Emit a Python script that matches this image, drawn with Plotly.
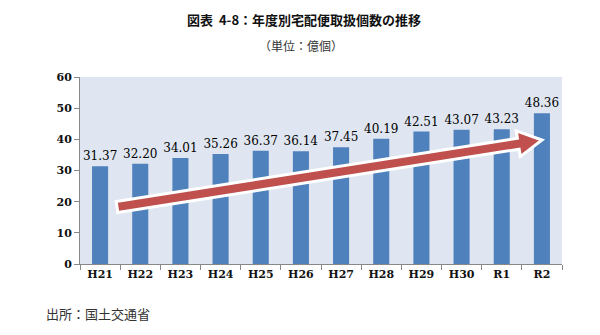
import math
import plotly.graph_objects as go

# 年度別宅配便取扱個数（億個）
years = ["H21", "H22", "H23", "H24", "H25", "H26", "H27", "H28", "H29", "H30", "R1", "R2"]
parcels = [31.37, 32.20, 34.01, 35.26, 36.37, 36.14, 37.45, 40.19, 42.51, 43.07, 43.23, 48.36]
y_ticks = [0, 10, 20, 30, 40, 50, 60]

W, H = 600, 335
L, R, T, B = 80, 38, 77, 71
pw, ph = W - L - R, H - T - B

serif = "DejaVu Serif"
cjk = "Noto Sans CJK JP, sans-serif"

fig = go.Figure(go.Bar(
    x=years, y=parcels,
    marker=dict(color="#4f81bd", line=dict(width=0)),
    text=[f"{v:.2f}" for v in parcels],
    textposition="outside",
    constraintext="none",
    textfont=dict(family=serif, size=12, color="#000"),
    cliponaxis=False,
    width=0.4,
))


def to_paper(px, py):
    return (px - L) / pw, (T + ph - py) / ph


# Trend arrow (decorative), built in pixel space then mapped to paper coords
sx, sy = 117, 207
ex, ey = 542, 140
dx, dy = ex - sx, ey - sy
ln = math.hypot(dx, dy)
ux, uy = dx / ln, dy / ln
nx, ny = -uy, ux
shaft, head_w, head_l = 5.5, 13, 24
bx, by = ex - ux * head_l, ey - uy * head_l
pts = [
    (sx + nx * shaft, sy + ny * shaft),
    (bx + nx * shaft, by + ny * shaft),
    (bx + nx * head_w, by + ny * head_w),
    (ex, ey),
    (bx - nx * head_w, by - ny * head_w),
    (bx - nx * shaft, by - ny * shaft),
    (sx - nx * shaft, sy - ny * shaft),
]
path = "M " + " L ".join(f"{a:.4f},{b:.4f}" for a, b in (to_paper(*p) for p in pts)) + " Z"
fig.add_shape(type="path", xref="paper", yref="paper", path=path,
              fillcolor="#c0504d", line=dict(color="white", width=3), layer="above")

fig.update_layout(
    width=W, height=H,
    margin=dict(l=L, r=R, t=T, b=B),
    paper_bgcolor="white",
    plot_bgcolor="#dfe6f1",
    showlegend=False,
    xaxis=dict(
        showline=True, linecolor="#888", linewidth=1,
        ticks="outside", ticklen=5, tickcolor="#888", tickson="boundaries",
        tickfont=dict(family=serif, size=11, color="#111", weight="bold"),
        showgrid=False,
    ),
    yaxis=dict(
        range=[0, 60], tickvals=y_ticks,
        showline=True, linecolor="#888", linewidth=1,
        ticks="outside", ticklen=5, tickcolor="#888",
        tickfont=dict(family=serif, size=11, color="#111", weight="bold"),
        showgrid=False, zeroline=False,
    ),
    annotations=[
        dict(text="<b>図表  4-8：年度別宅配便取扱個数の推移</b>", xref="paper", yref="paper",
             x=(304 - L) / pw, y=(T + ph - 20) / ph, xanchor="center", yanchor="middle",
             showarrow=False, font=dict(family=cjk, size=13, color="#111")),
        dict(text="（単位：億個）", xref="paper", yref="paper",
             x=(301 - L) / pw, y=(T + ph - 45) / ph, xanchor="center", yanchor="middle",
             showarrow=False, font=dict(family=cjk, size=12, color="#333")),
        dict(text="出所：国土交通省", xref="paper", yref="paper",
             x=(44 - L) / pw, y=(T + ph - 313) / ph, xanchor="left", yanchor="middle",
             showarrow=False, font=dict(family=cjk, size=13, color="#333")),
    ],
)

fig.write_html("out.html")
